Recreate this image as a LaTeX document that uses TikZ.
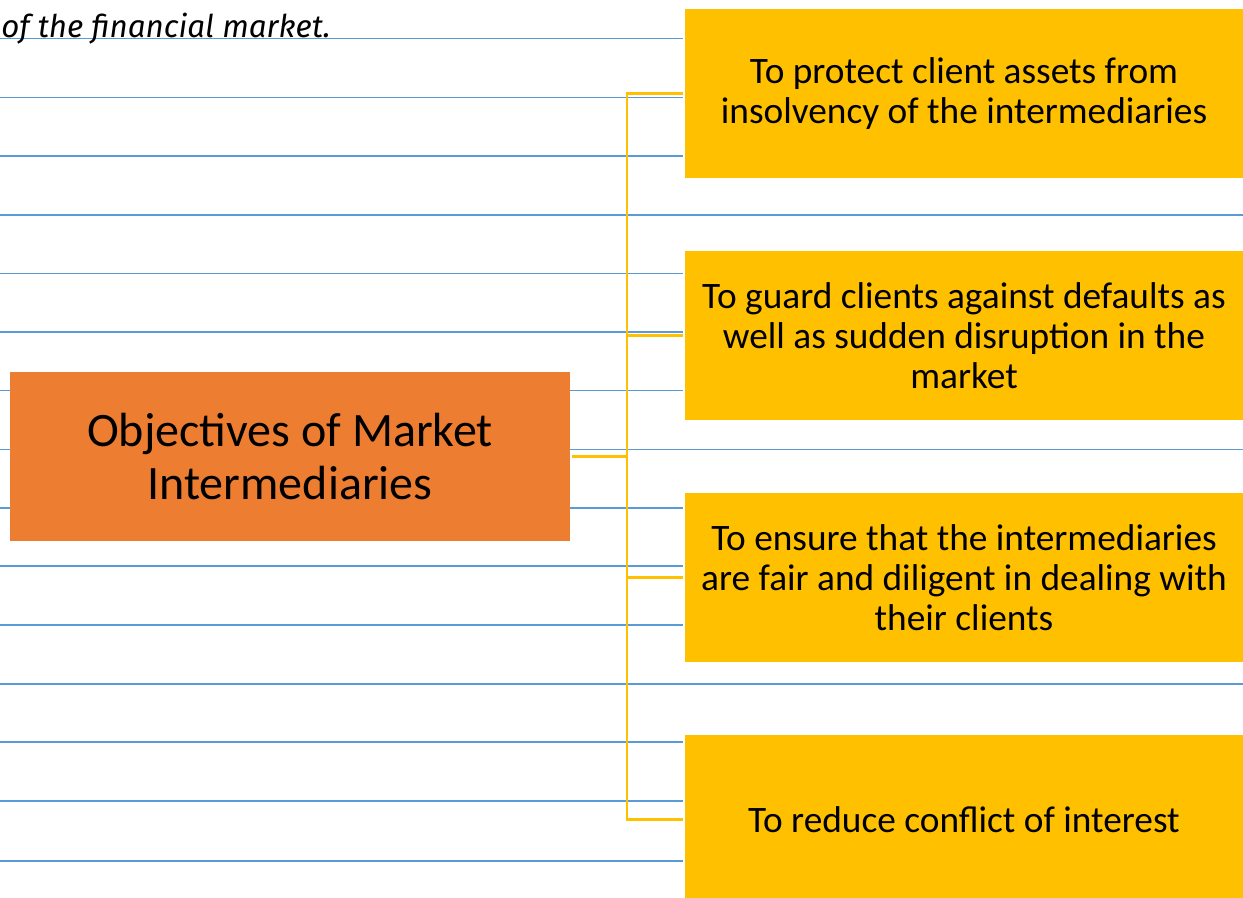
\documentclass[tikz,border=0pt]{standalone}
\usepackage{fontspec}
\setmainfont{Carlito}
\newfontfamily\handfont{Fira Sans Italic}
\definecolor{ruleblue}{HTML}{5B9BD5}
\definecolor{objorange}{HTML}{ED7D31}
\definecolor{objyellow}{HTML}{FFC000}
\begin{document}
\begin{tikzpicture}[x=0.75pt,y=-0.75pt,
  rulings/.style={draw=ruleblue,line width=0.9pt},
  goalbox/.style={fill=objyellow,draw=none,inner sep=0pt,outer sep=0pt,
    minimum width=418.5pt,minimum height=126.75pt,align=center,
    font=\fontsize{28}{30}\selectfont},
  titlebox/.style={fill=objorange,draw=none,inner sep=0pt,outer sep=0pt,
    minimum width=420pt,minimum height=126.75pt,align=center,
    font=\fontsize{36}{40}\selectfont},
  conn/.style={draw=objyellow,line width=1.7pt}]
\useasboundingbox (0,0) rectangle (1243,897);
\fill[white] (0,0) rectangle (1243,897);
% ruled notebook lines
\foreach \yy in {38.5,97.3,156,273.5,332,390.5,508,566,625,742}
  \draw[rulings] (0,\yy) -- (683,\yy);
\foreach \yy in {215,449.3,684}
  \draw[rulings] (0,\yy) -- (1243,\yy);
\foreach \yy in {801,861}
  \draw[rulings,line width=1.5pt] (0,\yy) -- (683,\yy);
% handwritten fragment at the top
\node[anchor=base west,inner sep=0pt,font=\handfont\fontsize{23.5}{28}\selectfont] (note) at (1,37.5) {of the financial market.};
% central topic
\node[titlebox] (obj) at (290,456.5) {Objectives of Market\\Intermediaries};
% objectives
\node[goalbox] (b1) at (964,93.5) {To protect client assets from\\insolvency of the intermediaries};
\node[goalbox] (b2) at (964,335.5) {To guard clients against defaults as\\well as sudden disruption in the\\market};
\node[goalbox] (b3) at (964,577.5) {To ensure that the intermediaries\\are fair and diligent in dealing with\\their clients};
\node[goalbox] (b4) at (964,819.5) {To reduce conflict of interest};
% bracket connector
\coordinate (trunk) at (627.3,456.5);
\draw[conn] ([xshift=-1.5pt]b1.west) -- (b1.west -| trunk) -- (b4.west -| trunk) -- ([xshift=-1.5pt]b4.west);
\draw[conn] ([xshift=1.5pt]obj.east) -- (obj.east -| trunk);
\draw[conn] (b2.west -| trunk) -- ([xshift=-1.5pt]b2.west);
\draw[conn] (b3.west -| trunk) -- ([xshift=-1.5pt]b3.west);
\end{tikzpicture}
\end{document}
